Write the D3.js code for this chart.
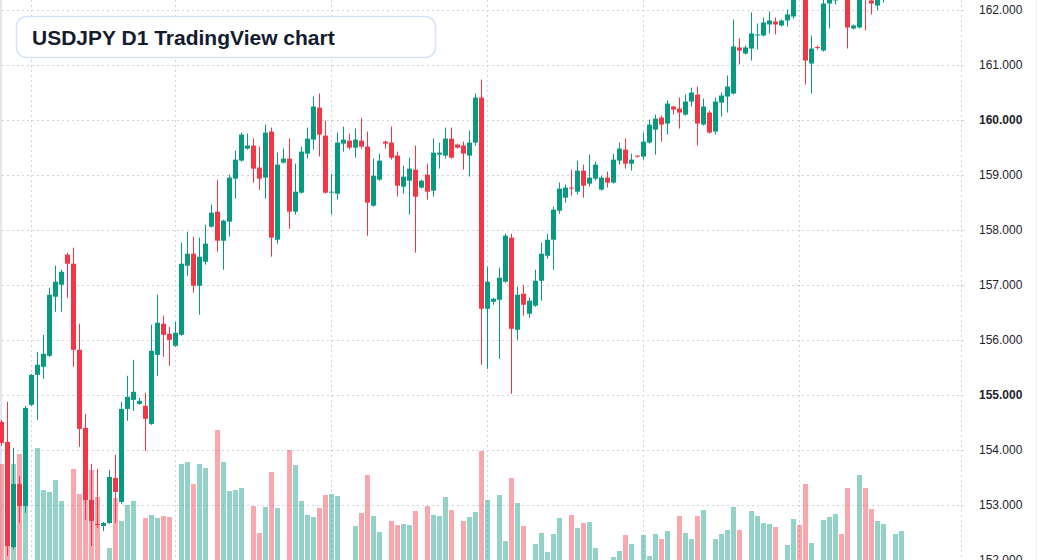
<!DOCTYPE html>
<html>
<head>
<meta charset="utf-8">
<script src="https://cdn.jsdelivr.net/npm/d3@7"></script>
<style>
  html, body { margin: 0; padding: 0; background: #fff; overflow: hidden; }
  svg { display: block; font-family: "Liberation Sans", Arial, sans-serif; }
</style>
</head>
<body>
<svg id="chart" width="1037" height="560"></svg>
<script>
// daily candles, oldest first
let opens = [154.509,154.145,152.236,153.382,152.982,154.818,155.364,155.509,155.709,156.782,
  157.0,157.546,157.382,155.818,154.4,153.091,152.655,152.618,152.673,153.491,
  153.055,154.745,154.909,154.836,154.8,154.473,155.727,156.291,156.109,155.891,
  156.091,157.346,157.564,156.982,157.418,158.055,158.327,157.8,158.146,158.927,
  159.255,159.473,159.528,159.128,158.946,159.782,157.818,159.218,159.291,158.327,
  158.673,159.382,159.637,160.218,159.709,158.673,158.655,159.564,159.618,159.491,
  159.618,159.51,158.437,158.909,159.6,159.582,159.346,158.782,158.891,159.091,
  158.764,159.0,158.709,159.364,159.346,159.655,159.546,159.528,159.346,159.582,
  160.4,156.564,156.691,156.728,157.055,157.855,156.182,156.837,156.473,156.619,
  157.073,157.528,157.818,158.346,158.582,158.764,158.691,159.073,158.837,158.928,
  158.728,158.946,158.855,159.255,159.455,159.2,159.346,159.328,159.582,159.818,
  160.037,159.928,160.237,160.2,160.091,160.328,160.455,159.91,160.128,159.782,
  160.309,160.418,160.473,161.31,161.2,161.291,161.537,161.528,161.728,161.782,
  161.71,161.8,161.873,162.40,162.30,161.018,161.318,161.255,162.109,162.164,
  162.45,162.30,161.655,161.673,162.40,162.164,162.073,162.25,162.35,162.40,
  162.50];

let highs = [154.545,154.873,154.036,153.527,154.8,155.382,155.782,156.091,156.946,157.346,
  157.273,157.582,157.673,156.291,154.655,153.746,153.655,152.691,153.636,153.909,
  154.873,155.346,155.637,154.946,155.037,156.273,156.818,156.437,156.237,156.327,
  157.764,157.964,157.873,157.855,158.091,158.455,158.909,158.182,159.0,159.437,
  159.764,159.746,159.655,159.509,159.909,159.855,159.4,159.473,159.655,159.2,
  159.509,159.855,160.418,160.473,159.982,159.018,159.764,159.873,159.746,159.837,
  160.036,159.782,159.291,159.382,159.618,159.873,159.418,159.164,159.309,159.528,
  158.909,159.2,159.655,159.582,159.855,159.855,159.564,159.6,159.8,160.473,
  160.727,157.328,156.764,157.31,157.928,157.928,156.964,157.0,156.764,157.273,
  157.764,157.928,158.418,158.855,158.818,159.091,159.255,159.182,159.364,159.237,
  158.982,159.055,159.382,159.582,159.655,159.382,159.346,159.764,160.0,160.091,
  160.073,160.346,160.255,160.4,160.455,160.582,160.6,160.382,160.164,160.4,
  160.491,160.8,161.818,161.473,161.346,161.946,161.746,161.855,161.964,161.855,
  161.818,162.0,162.364,162.55,162.40,161.528,161.346,162.25,162.35,162.40,
  162.55,162.40,161.728,162.45,162.50,162.30,162.35,162.45,162.50,162.60,
  162.70];

let lows = [154.073,152.073,152.2,152.673,152.855,154.8,154.545,155.291,155.691,156.509,
  156.509,156.764,155.509,154.055,152.727,152.255,152.582,152.527,152.655,152.673,
  153.018,154.527,154.709,154.818,153.982,154.455,155.346,155.691,155.527,155.873,
  156.073,157.164,156.855,156.455,157.364,158.037,157.6,157.273,157.873,158.564,
  159.237,159.455,158.855,158.727,158.564,157.509,157.746,159.2,158.018,158.273,
  158.655,159.291,159.455,159.327,158.655,158.273,158.546,159.418,159.455,159.309,
  159.473,157.891,158.418,158.891,159.473,159.273,158.6,158.655,158.273,157.582,
  158.746,158.546,158.6,159.109,159.291,159.291,159.473,159.091,158.964,159.528,
  155.546,155.473,156.637,155.655,157.037,155.018,156.0,156.437,156.4,156.6,
  156.709,157.473,157.273,158.291,158.491,158.618,158.637,158.582,158.782,158.891,
  158.709,158.764,158.837,159.182,159.109,159.073,159.309,159.273,159.564,159.364,
  159.6,159.728,160.091,159.837,160.073,160.237,159.528,159.891,159.746,159.728,
  160.055,160.128,160.455,161.0,161.182,161.073,161.273,161.51,161.564,161.546,
  161.69,161.69,161.837,162.22,160.637,160.473,161.273,161.237,161.655,162.091,
  162.22,161.291,161.637,161.655,161.618,161.91,161.982,162.128,162.30,162.30,
  162.45];

let closes = [154.127,152.255,153.382,152.982,154.764,155.364,155.546,155.746,156.818,157.055,
  157.236,157.382,155.818,154.382,153.091,152.709,152.636,152.673,153.509,153.237,
  154.745,154.964,155.055,154.891,154.564,155.8,156.309,156.091,156.0,156.127,
  157.382,157.564,156.982,157.509,157.746,158.309,157.8,158.164,158.946,159.273,
  159.727,159.528,159.109,158.927,159.764,157.855,159.182,159.291,158.327,158.691,
  159.418,159.655,160.237,159.727,158.673,158.691,159.582,159.637,159.491,159.637,
  159.51,158.491,158.982,159.255,159.564,159.309,158.8,158.964,159.109,158.6,
  158.891,158.691,159.4,159.4,159.655,159.309,159.491,159.382,159.582,160.4,
  156.564,157.055,156.746,157.128,157.891,156.2,156.818,156.637,156.709,157.073,
  157.564,157.818,158.364,158.746,158.764,158.746,159.073,158.8,158.946,159.182,
  158.946,158.855,159.273,159.473,159.2,159.273,159.328,159.6,159.909,160.018,
  159.909,160.291,160.182,160.128,160.328,160.491,159.928,160.237,159.764,160.328,
  160.437,160.6,161.328,161.255,161.31,161.564,161.546,161.764,161.8,161.728,
  161.8,161.91,162.273,162.28,161.073,161.291,161.3,162.109,162.25,162.30,
  162.30,161.673,161.71,162.30,162.25,162.109,162.25,162.35,162.40,162.55,
  162.65];

let volumes = [126,110,126,136,110,20,142,100,98,110,
  89,20,121,96,105,120,93,18,42,92,
  69,85,89,20,72,75,72,74,73,20,
  126,128,106,126,122,22,160,128,99,100,
  102,20,84,57,83,118,82,20,140,125,
  89,75,73,82,95,96,94,20,22,64,
  77,115,74,58,20,69,65,66,65,79,
  20,84,75,74,93,80,20,69,73,78,
  139,90,20,95,49,112,87,64,20,46,
  57,38,56,72,20,75,62,67,68,42,
  22,25,33,39,55,46,18,55,34,56,
  51,59,20,74,57,51,74,80,20,51,
  56,60,83,60,20,79,74,67,66,63,
  20,45,71,65,106,47,20,70,73,76,
  56,102,20,115,102,81,69,66,20,56,
  59];

let priceTicks = [152, 153, 154, 155, 156, 157, 158, 159, 160, 161, 162];
let timeGridIdx = [5, 29, 55, 81, 107, 133, 160];
let title = "USDJPY D1 TradingView chart";

let upColor = "#089981",
    downColor = "#f23645",
    gridColor = "#cfd2d8";

let svg = d3.select("#chart");

let candles = opens.map(function(o, i) {
    return { i: i, o: o, h: highs[i], l: lows[i], c: closes[i], v: volumes[i] };
});

let x = d3.scaleLinear().domain([0, 160]).range([1.5, 961.5]);
let y = d3.scaleLinear().domain([152, 162]).range([560, 9.5]);
let yVol = d3.scaleLinear().domain([0, 200]).range([590, 390]);

let barW = 5;

// left edge strip
svg.append("rect").attr("x", 0).attr("y", 0).attr("width", 2).attr("height", 560).attr("fill", "#e4e5e8");
svg.append("line").attr("x1", 1036.5).attr("x2", 1036.5).attr("y1", 0).attr("y2", 560)
    .attr("stroke", "#eceef1").attr("stroke-width", 1);

// grid
svg.append("g").selectAll("line.h").data(priceTicks).enter().append("line")
    .attr("x1", 2).attr("x2", 967)
    .attr("y1", function(d) { return Math.round(y(d)) + 0.5; })
    .attr("y2", function(d) { return Math.round(y(d)) + 0.5; })
    .attr("stroke", gridColor).attr("stroke-width", 1).attr("stroke-dasharray", "2,3");

svg.append("g").selectAll("line.v").data(timeGridIdx).enter().append("line")
    .attr("x1", function(d) { return x(d); }).attr("x2", function(d) { return x(d); })
    .attr("y1", 0).attr("y2", 560)
    .attr("stroke", gridColor).attr("stroke-width", 1).attr("stroke-dasharray", "2,3");

// volume
svg.append("g").selectAll("rect").data(candles).enter().append("rect")
    .attr("x", function(d) { return x(d.i) - barW / 2; })
    .attr("width", barW)
    .attr("y", function(d) { return yVol(d.v); })
    .attr("height", function(d) { return yVol(0) - yVol(d.v); })
    .attr("fill", function(d) { return d.c >= d.o ? upColor : downColor; })
    .attr("fill-opacity", 0.44);

// candles
let cg = svg.append("g").selectAll("g").data(candles).enter().append("g");

cg.append("line")
    .attr("x1", function(d) { return x(d.i); }).attr("x2", function(d) { return x(d.i); })
    .attr("y1", function(d) { return y(d.h); }).attr("y2", function(d) { return y(d.l); })
    .attr("stroke", function(d) { return d.c >= d.o ? upColor : downColor; })
    .attr("stroke-width", 1);

cg.append("rect")
    .attr("x", function(d) { return x(d.i) - barW / 2; })
    .attr("width", barW)
    .attr("y", function(d) { return y(Math.max(d.o, d.c)); })
    .attr("height", function(d) { return Math.max(1, Math.abs(y(d.o) - y(d.c))); })
    .attr("fill", function(d) { return d.c >= d.o ? upColor : downColor; });

// price scale
let axis = d3.axisRight(y).tickValues(priceTicks).tickFormat(d3.format(".3f")).tickSize(0).tickPadding(0);
let ag = svg.append("g").attr("transform", "translate(979,0)").call(axis);
ag.select(".domain").remove();
ag.selectAll("text")
    .attr("font-family", "'Liberation Sans', Arial, sans-serif")
    .attr("font-size", 12)
    .attr("fill", "#1e222d")
    .attr("font-weight", function(d) { return d % 5 === 0 ? "bold" : "normal"; });

// title box
svg.append("rect")
    .attr("x", 16.5).attr("y", 16.5).attr("width", 419).attr("height", 41).attr("rx", 10)
    .attr("fill", "#ffffff").attr("fill-opacity", 0.9)
    .attr("stroke", "#d5e3f8").attr("stroke-width", 1.5);

svg.append("text")
    .attr("x", 32).attr("y", 44.5)
    .attr("font-size", 21).attr("font-weight", "bold")
    .attr("fill", "#131b2e")
    .text(title);
</script>
</body>
</html>
